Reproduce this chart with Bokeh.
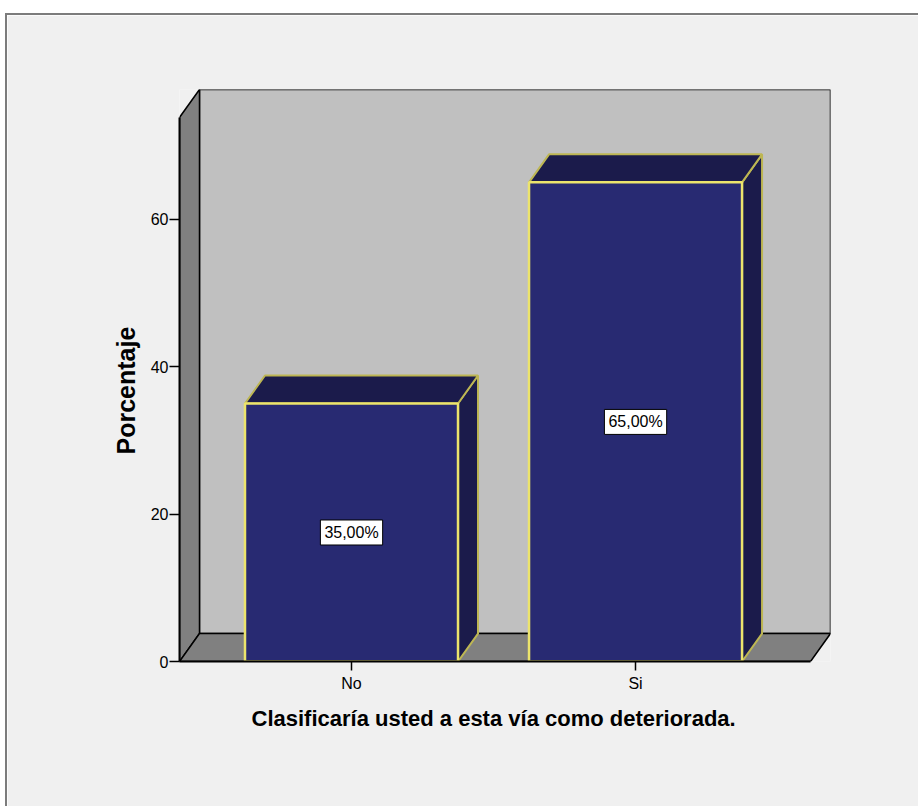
from bokeh.plotting import figure
from bokeh.models import FixedTicker, Range1d, Title
from bokeh.core.properties import value
from bokeh.embed import file_html
from bokeh.resources import INLINE

# ---- data ----
categories = ["No", "Si"]
percentages = [35.0, 65.0]
value_labels = ["35,00%", "65,00%"]
y_ticks = [0, 20, 40, 60]
x_title = "Clasificaría usted a esta vía como deteriorada."
y_title = "Porcentaje"

# ---- style / geometry ----
bar_w = 0.75
dx, dy = 0.0704, 3.79          # 3D depth offset (data units)
x_lo, x_hi = -0.6056, 1.616    # front plane extent along x
wall_top = 73.8                # front plane top

FONT = "Liberation Sans, Arial"

xs = list(range(len(categories)))

p = figure(width=913, height=793, output_backend="svg", toolbar_location=None,
           x_range=Range1d(x_lo, x_hi + dx), y_range=Range1d(0, wall_top + dy),
           min_border_left=172, min_border_right=90, min_border_top=74, min_border_bottom=147,
           background_fill_color="#f0f0f0", border_fill_color="#f0f0f0")
p.margin = (13, 0, 0, 5)
p.styles = {"border-top": "2px solid #7c7c7c", "border-left": "2px solid #7c7c7c"}
p.outline_line_color = None
p.grid.visible = False

# back wall
p.quad(left=[x_lo + dx], right=[x_hi + dx], bottom=[dy], top=[wall_top + dy],
       fill_color="#c0c0c0", line_color="#000000", line_width=1.5)
# left wall
p.patch([x_lo, x_lo, x_lo + dx, x_lo + dx], [0, wall_top, wall_top + dy, dy],
        fill_color="#808080", line_color="#000000", line_width=1.5)
# floor
p.patch([x_lo, x_lo + dx, x_hi + dx, x_hi], [0, dy, dy, 0],
        fill_color="#808080", line_color="#000000", line_width=1.5)

# bars
for x, h in zip(xs, percentages):
    l, r = x - bar_w / 2, x + bar_w / 2
    p.patch([r, r, r + dx, r + dx], [0, h, h + dy, dy],
            fill_color="#1b1b4b", line_color="#bdb653", line_width=2)
    p.patch([l, l + dx, r + dx, r], [h, h + dy, h + dy, h],
            fill_color="#1b1b4b", line_color="#bdb653", line_width=2)
p.quad(left=[x - bar_w / 2 for x in xs], right=[x + bar_w / 2 for x in xs],
       bottom=0, top=percentages, fill_color="#282a72", line_color="#ece46c", line_width=2.5)

# value labels
p.text(x=xs, y=[h / 2 for h in percentages], text=value_labels,
       text_align="center", text_baseline="middle",
       text_font=value(FONT), text_font_size="16px", text_color="#000000",
       background_fill_color="#ffffff", border_line_color="#000000", border_line_width=1,
       padding=4)

# axes
p.xaxis.ticker = FixedTicker(ticks=xs)
p.xaxis.major_label_overrides = {i: c for i, c in zip(xs, categories)}
p.xaxis.bounds = (x_lo, x_hi)
p.yaxis.ticker = FixedTicker(ticks=y_ticks)
p.yaxis.bounds = (0, wall_top)
for ax in (p.xaxis, p.yaxis):
    ax.axis_line_color = "#000000"
    ax.axis_line_width = 2
    ax.major_tick_in = 0
    ax.major_tick_out = 10
    ax.major_tick_line_color = "#000000"
    ax.major_tick_line_width = 1.5
    ax.minor_tick_line_color = None
    ax.major_label_text_font = FONT
    ax.major_label_text_font_size = "16px"
    ax.major_label_text_color = "#000000"
p.xaxis.major_tick_out = 9
p.xaxis.major_label_standoff = 4
p.yaxis.major_label_standoff = 1

# axis titles as side titles, placed on the front plane
p.add_layout(Title(text=x_title, align="left", offset=72, standoff=18,
                   text_font=FONT, text_font_style="bold", text_font_size="22px",
                   text_color="#000000"), "below")
p.add_layout(Title(text=y_title, align="left", offset=207, standoff=15,
                   text_font=FONT, text_font_style="bold", text_font_size="25px",
                   text_color="#000000"), "left")

open("out.html", "w").write(file_html(p, INLINE))
